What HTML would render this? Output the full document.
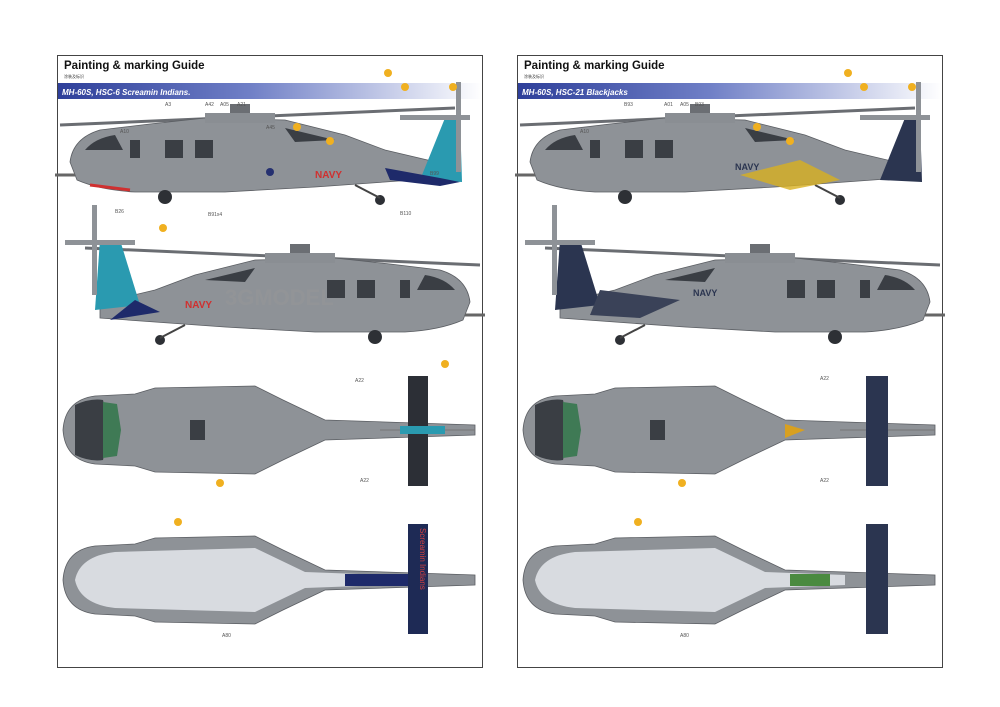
<!DOCTYPE html>
<html><head><meta charset="utf-8"><style>
body{margin:0;background:#fff;width:1000px;height:707px;overflow:hidden}
svg{display:block}
text{font-family:"Liberation Sans",sans-serif}
.l{font-size:5px;fill:#555}
</style></head><body>
<svg width="1000" height="707" viewBox="0 0 1000 707">
<defs>
<linearGradient id="bar" x1="0" x2="1"><stop offset="0" stop-color="#2e3f9a"/><stop offset="0.45" stop-color="#6f7fc6"/><stop offset="1" stop-color="#fff"/></linearGradient>
<g id="side">
 <line x1="5" y1="125" x2="400" y2="108" stroke="#6a6d72" stroke-width="3"/>
 <path d="M15,162 Q18,138 45,130 L95,124 L150,118 L230,120 L290,135 L330,150 L385,163 L385,178 L330,182 L260,187 L170,192 L80,192 Q45,190 22,180 Z" fill="#8e9297" stroke="#5a5d62" stroke-width="0.8"/>
 <rect x="150" y="113" width="70" height="10" fill="#8a8e93"/>
 <rect x="175" y="104" width="20" height="9" fill="#6b6e73"/>
 <path d="M30,150 Q40,138 60,135 L68,150 Z" fill="#3a3e44"/>
 <rect x="75" y="140" width="10" height="18" fill="#3a3e44"/>
 <rect x="110" y="140" width="18" height="18" fill="#3a3e44"/>
 <rect x="140" y="140" width="18" height="18" fill="#3a3e44"/>
 <path d="M230,128 L280,140 L240,142 Z" fill="#3a3e44"/>
 <circle cx="110" cy="197" r="7" fill="#2d3035"/>
 <circle cx="325" cy="200" r="5" fill="#2d3035"/>
 <line x1="300" y1="185" x2="325" y2="198" stroke="#444" stroke-width="2"/>
 <line x1="0" y1="175" x2="20" y2="175" stroke="#666" stroke-width="3"/>
</g>
<g id="top">
 <path d="M8,430 Q10,400 40,396 L80,394 L100,388 L200,386 L228,400 L270,420 L420,425 L420,435 L270,440 L228,460 L200,474 L100,472 L80,466 L40,464 Q10,460 8,430 Z" fill="#8e9297" stroke="#5a5d62" stroke-width="0.8"/>
 <path d="M20,405 Q35,398 48,400 L55,430 L48,460 Q35,462 20,455 Z" fill="#3a3e44"/>
 <path d="M48,402 L62,404 L66,430 L62,456 L48,458 Z" fill="#3f7a55"/>
 <rect x="135" y="420" width="15" height="20" fill="#3a3e44"/>
 <line x1="325" y1="430" x2="420" y2="430" stroke="#777" stroke-width="1"/>
</g>
<g id="bot">
 <path d="M8,580 Q10,550 40,546 L80,544 L100,538 L200,536 L228,550 L270,570 L420,575 L420,585 L270,590 L228,610 L200,624 L100,622 L80,616 L40,614 Q10,610 8,580 Z" fill="#8e9297" stroke="#5a5d62" stroke-width="0.8"/>
 <path d="M20,580 Q25,556 60,552 L200,548 L250,572 L330,575 L330,585 L250,588 L200,612 L60,608 Q25,604 20,580 Z" fill="#d8dbe0"/>
</g>
</defs>

<!-- LEFT PANEL -->
<rect x="57.5" y="55.5" width="425" height="612" fill="#fff" stroke="#444"/>
<text x="64" y="69" font-size="11.5" font-weight="bold" fill="#111">Painting &amp; marking Guide</text>
<text x="64" y="78" font-size="4" fill="#333">涂装及标识</text>
<rect x="58" y="83" width="424" height="16" fill="url(#bar)"/>
<text x="62" y="95" font-size="8" font-style="italic" font-weight="bold" fill="#fff">MH-60S, HSC-6 Screamin Indians.</text>

<use href="#side" x="55" y="0"/>
<path d="M420,180 L445,118 L460,118 L462,182 Z" fill="#2a9ab0"/>
<path d="M385,168 L440,178 L460,182 L440,186 L390,180 Z" fill="#1e2a6a"/>
<rect x="456" y="82" width="5" height="90" fill="#8e9297"/>
<rect x="400" y="115" width="70" height="5" fill="#8e9297"/>
<path d="M90,185 L130,190" stroke="#d03030" stroke-width="3"/>
<text x="315" y="178" font-size="10" font-weight="bold" fill="#d03030">NAVY</text>
<circle cx="270" cy="172" r="4" fill="#253070"/>

<g transform="translate(540,140) scale(-1,1)"><use href="#side" x="55" y="0"/></g>
<path d="M100,240 L120,240 L140,305 L95,310 Z" fill="#2a9ab0"/>
<path d="M135,300 L160,312 L110,320 Z" fill="#1e2a6a"/>
<rect x="92" y="205" width="5" height="90" fill="#8e9297"/>
<rect x="65" y="240" width="70" height="5" fill="#8e9297"/>
<text x="185" y="308" font-size="10" font-weight="bold" fill="#d03030">NAVY</text>
<text x="225" y="305" font-size="22" font-weight="bold" fill="#999" opacity="0.4">3GMODEL</text>

<use href="#top" x="55" y="0"/>
<rect x="408" y="376" width="20" height="110" fill="#2c2f36"/>
<rect x="400" y="426" width="45" height="8" fill="#2a9ab0"/>
<use href="#bot" x="55" y="0"/>
<rect x="345" y="574" width="65" height="12" fill="#1e2a6a"/>
<rect x="408" y="524" width="20" height="110" fill="#1e2a55"/>
<text transform="translate(420,528) rotate(90)" font-size="8" fill="#d04040">Screamin Indians</text>

<!-- RIGHT PANEL -->
<rect x="517.5" y="55.5" width="425" height="612" fill="#fff" stroke="#444"/>
<text x="524" y="69" font-size="11.5" font-weight="bold" fill="#111">Painting &amp; marking Guide</text>
<text x="524" y="78" font-size="4" fill="#333">涂装及标识</text>
<rect x="518" y="83" width="424" height="16" fill="url(#bar)"/>
<text x="522" y="95" font-size="8" font-style="italic" font-weight="bold" fill="#fff">MH-60S, HSC-21 Blackjacks</text>

<use href="#side" x="515" y="0"/>
<path d="M880,180 L905,118 L920,118 L922,182 Z" fill="#2b3550"/>
<path d="M740,175 L800,160 L840,180 L790,190 Z" fill="#d8b020" opacity="0.8"/>
<rect x="916" y="82" width="5" height="90" fill="#8e9297"/>
<rect x="860" y="115" width="70" height="5" fill="#8e9297"/>
<text x="735" y="170" font-size="9" font-weight="bold" fill="#2b3550">NAVY</text>

<g transform="translate(1460,140) scale(-1,1)"><use href="#side" x="515" y="0"/></g>
<path d="M560,240 L580,240 L600,305 L555,310 Z" fill="#2b3550"/>
<path d="M600,290 L680,300 L640,318 L590,315 Z" fill="#3a4258"/>
<rect x="552" y="205" width="5" height="90" fill="#8e9297"/>
<rect x="525" y="240" width="70" height="5" fill="#8e9297"/>
<text x="693" y="296" font-size="9" font-weight="bold" fill="#2b3550">NAVY</text>

<use href="#top" x="515" y="0"/>
<rect x="866" y="376" width="22" height="110" fill="#2b3550"/>
<path d="M785,424 L805,430 L785,438 Z" fill="#d8a020"/>
<use href="#bot" x="515" y="0"/>
<rect x="790" y="574" width="40" height="12" fill="#4a8a40"/>
<rect x="866" y="524" width="22" height="110" fill="#2b3550"/>

<!-- callout dots -->
<g fill="#f0b020">
<circle cx="388" cy="73" r="4"/><circle cx="405" cy="87" r="4"/><circle cx="453" cy="87" r="4"/>
<circle cx="297" cy="127" r="4"/><circle cx="330" cy="141" r="4"/><circle cx="163" cy="228" r="4"/>
<circle cx="445" cy="364" r="4"/><circle cx="220" cy="483" r="4"/><circle cx="178" cy="522" r="4"/>
<circle cx="848" cy="73" r="4"/><circle cx="864" cy="87" r="4"/><circle cx="912" cy="87" r="4"/>
<circle cx="757" cy="127" r="4"/><circle cx="790" cy="141" r="4"/><circle cx="682" cy="483" r="4"/><circle cx="638" cy="522" r="4"/>
</g>
<g class="l">
<text x="165" y="106">A3</text><text x="205" y="106">A42</text><text x="220" y="106">A05</text><text x="237" y="106">A21</text>
<text x="120" y="133">A10</text><text x="266" y="129">A45</text><text x="115" y="213">B26</text><text x="208" y="216">B91x4</text>
<text x="430" y="175">B99</text><text x="400" y="215">B110</text><text x="355" y="382">A22</text><text x="360" y="482">A22</text>
<text x="624" y="106">B93</text><text x="664" y="106">A01</text><text x="680" y="106">A05</text><text x="695" y="106">B93</text>
<text x="580" y="133">A10</text><text x="820" y="380">A22</text><text x="820" y="482">A22</text><text x="680" y="637">A80</text><text x="222" y="637">A80</text>
</g>
</svg>
</body></html>
